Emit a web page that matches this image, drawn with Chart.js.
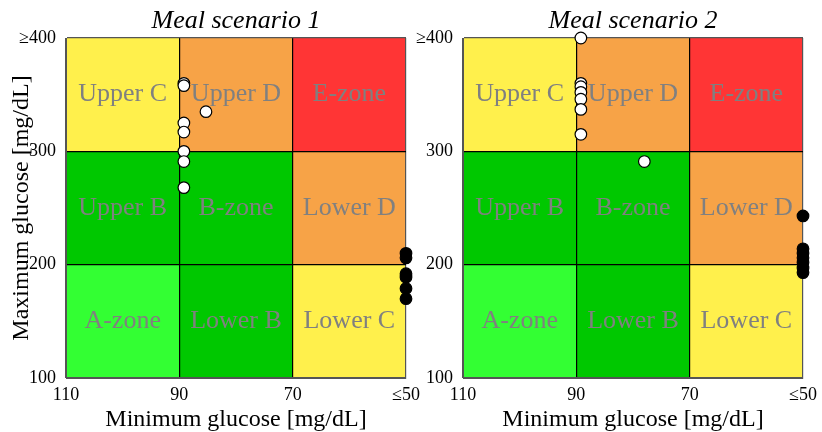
<!DOCTYPE html>
<html lang="en">
  <head>
    <meta charset="UTF-8" />
    <title>Meal scenarios</title>
    <script src="https://cdn.jsdelivr.net/npm/chart.js@4"></script>
    <style>
      body { margin: 0; background: #fff; }
      #wrap { position: relative; width: 822px; height: 432px; }
      canvas { position: absolute; top: 0; }
      #c1 { left: 0; }
      #c2 { left: 410px; }
    </style>
  </head>
  <body>
    <div id="wrap">
      <canvas id="c1" width="440" height="432"></canvas>
      <canvas id="c2" width="412" height="432"></canvas>
    </div>
  </body>
</html>

<script>
  // zone grid (min glucose columns, max glucose rows)
  const xEdges = [110, 90, 70, 50];
  const yEdges = [100, 200, 300, 400];
  // rows from bottom to top
  const zoneNames = [
    ["A-zone", "Lower B", "Lower C"],
    ["Upper B", "B-zone", "Lower D"],
    ["Upper C", "Upper D", "E-zone"],
  ];
  const zoneColors = [
    ["#33ff33", "#00c800", "#fff04c"],
    ["#00c800", "#00c800", "#f7a347"],
    ["#fff04c", "#f7a347", "#ff3535"],
  ];

  const xTickValues = [110, 90, 70, 50];
  const xTickLabels = ["110", "90", "70", "≤50"];
  const yTickValues = [100, 200, 300, 400];
  const yTickLabels = ["100", "200", "300", "≥400"];

  // meal scenario 1
  const s1OpenMin = [89.2, 89.2, 85.3, 89.2, 89.2, 89.2, 89.2, 89.2];
  const s1OpenMax = [360, 358, 335, 325, 317, 300, 291, 268];
  const s1FilledMin = [50, 50, 50, 50, 50, 50];
  const s1FilledMax = [210, 206, 192, 189, 179, 170];

  // meal scenario 2
  const s2OpenMin = [89.2, 89.2, 89.2, 89.2, 89.2, 89.2, 89.2, 78];
  const s2OpenMax = [400, 360, 357, 352, 346, 337, 315, 291];
  const s2FilledMin = [50, 50, 50, 50, 50, 50, 50];
  const s2FilledMax = [243, 214, 210, 206, 202, 197, 193];

  const serif = "'Liberation Serif', 'Times New Roman', serif";

  function pares(xs, ys) {
    let out = [];
    for (let i = 0; i < xs.length; i++) out.push({ x: xs[i], y: ys[i] });
    return out;
  }

  const zonasPlugin = {
    id: "zonas",
    beforeDraw(chart) {
      const { ctx, scales } = chart;
      const x = scales.x;
      const y = scales.y;
      ctx.save();
      for (let r = 0; r < 3; r++) {
        for (let c = 0; c < 3; c++) {
          const x0 = x.getPixelForValue(xEdges[c]);
          const x1 = x.getPixelForValue(xEdges[c + 1]);
          const y0 = y.getPixelForValue(yEdges[r]);
          const y1 = y.getPixelForValue(yEdges[r + 1]);
          ctx.fillStyle = zoneColors[r][c];
          ctx.fillRect(x0, y1, x1 - x0, y0 - y1);
          ctx.fillStyle = "#808080";
          ctx.font = "26px " + serif;
          ctx.textAlign = "center";
          ctx.textBaseline = "middle";
          ctx.fillText(zoneNames[r][c], (x0 + x1) / 2, (y0 + y1) / 2);
        }
      }
      ctx.restore();
    },
    afterDraw(chart) {
      const { ctx, chartArea } = chart;
      ctx.save();
      ctx.fillStyle = "#000";
      ctx.font = "italic 26px " + serif;
      ctx.textAlign = "center";
      ctx.textBaseline = "alphabetic";
      ctx.fillText(chart.options.plugins.zonas.titulo, (chartArea.left + chartArea.right) / 2, 28);
      ctx.restore();
    },
  };

  function gridCor(ctx) {
    const v = ctx.tick ? ctx.tick.value : null;
    if (v === 110 || v === 50 || v === 100 || v === 400) return "#555";
    return "#000";
  }

  function criarGrafico(id, titulo, abertos, fechados, yWidth, padRight, comTituloY) {
    return new Chart(document.getElementById(id), {
      type: "scatter",
      data: {
        datasets: [
          {
            data: fechados,
            backgroundColor: "#000",
            borderColor: "#000",
            borderWidth: 1.2,
            pointRadius: 5.8,
            clip: false,
          },
          {
            data: abertos,
            backgroundColor: "#fff",
            borderColor: "#000",
            borderWidth: 1.2,
            pointRadius: 5.8,
            clip: false,
          },
        ],
      },
      options: {
        responsive: false,
        animation: false,
        devicePixelRatio: 1,
        layout: { padding: { top: 38, right: padRight, left: 0, bottom: 0 } },
        plugins: {
          legend: { display: false },
          tooltip: { enabled: false },
          zonas: { titulo: titulo },
        },
        scales: {
          x: {
            type: "linear",
            min: 50,
            max: 110,
            reverse: true,
            afterFit(scale) {
              scale.height = 54;
              scale.paddingLeft = 0;
              scale.paddingRight = 0;
            },
            ticks: {
              stepSize: 20,
              padding: 6,
              color: "#000",
              font: { family: serif, size: 18 },
              callback: (v) => {
                const i = xTickValues.indexOf(v);
                return i >= 0 ? xTickLabels[i] : "";
              },
            },
            grid: { color: gridCor, lineWidth: 1.2, drawTicks: false },
            border: { color: "#555", width: 1 },
            title: {
              display: true,
              text: "Minimum glucose [mg/dL]",
              color: "#000",
              font: { family: serif, size: 24, lineHeight: 1 },
              padding: { top: 0, bottom: 0 },
            },
          },
          y: {
            type: "linear",
            min: 100,
            max: 400,
            afterFit(scale) {
              scale.width = yWidth;
            },
            ticks: {
              stepSize: 100,
              padding: 10,
              color: "#000",
              font: { family: serif, size: 18 },
              callback: (v) => {
                const i = yTickValues.indexOf(v);
                return i >= 0 ? yTickLabels[i] : "";
              },
            },
            grid: { color: gridCor, lineWidth: 1.2, drawTicks: false },
            border: { color: "#555", width: 1 },
            title: {
              display: comTituloY,
              text: "Maximum glucose [mg/dL]",
              color: "#000",
              font: { family: serif, size: 24 },
              padding: { top: 7, bottom: 0 },
            },
          },
        },
      },
      plugins: [zonasPlugin],
    });
  }

  criarGrafico("c1", "Meal scenario 1", pares(s1OpenMin, s1OpenMax), pares(s1FilledMin, s1FilledMax), 66, 34, true);
  criarGrafico("c2", "Meal scenario 2", pares(s2OpenMin, s2OpenMax), pares(s2FilledMin, s2FilledMax), 53, 19, false);
</script>
